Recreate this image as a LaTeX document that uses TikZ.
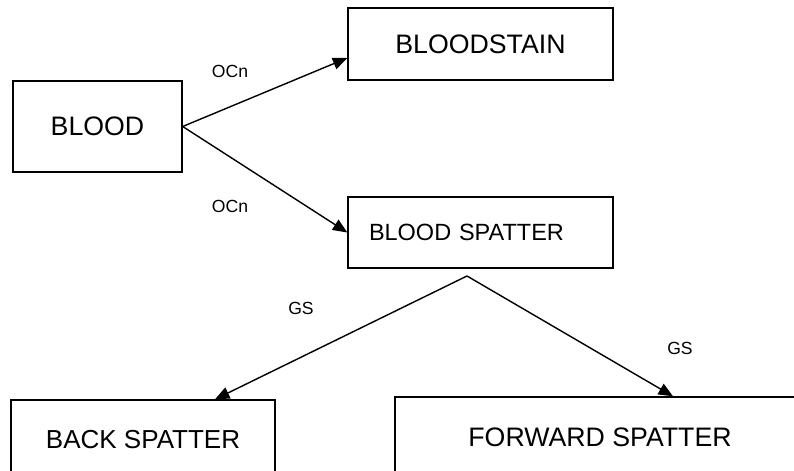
\documentclass[tikz,border=0pt]{standalone}
\usepackage{fontspec}
\setmainfont{Liberation Sans}
\usetikzlibrary{shapes,arrows.meta,positioning}

\tikzset{
  box/.style={draw, rectangle, line width=1pt, inner sep=0pt},
  flow/.style={line width=1pt, -{Triangle[length=3.6mm,width=3mm]}},
  tag/.style={font=\fontsize{12.5}{14}\selectfont, inner sep=0pt}
}

\begin{document}
\begin{tikzpicture}[x=0.025cm, y=-0.025cm]
\useasboundingbox (0,0) rectangle (794,471);
\clip (0,0) rectangle (794,471);
% boxes
\node[box, minimum width=169*0.025cm, minimum height=91*0.025cm, font=\fontsize{19}{22}\selectfont] (blood) at (97.5,126.5) {BLOOD};
\node[box, minimum width=265*0.025cm, minimum height=72*0.025cm, font=\fontsize{19}{22}\selectfont] (stain) at (480.5,44) {BLOODSTAIN};
\node[box, minimum width=265*0.025cm, minimum height=71*0.025cm, text width=223*0.025cm, inner xsep=21*0.025cm, align=left, font=\fontsize{16.7}{20}\selectfont] (spatter) at (480.5,232.5) {BLOOD SPATTER};
\node[box, minimum width=264*0.025cm, minimum height=80*0.025cm, font=\fontsize{18.5}{22}\selectfont] (back) at (143,440) {BACK SPATTER};
\node[box, minimum width=410*0.025cm, minimum height=80*0.025cm, font=\fontsize{19}{22}\selectfont] (forward) at (600,437) {FORWARD SPATTER};
\coordinate (split) at (467,276);
% connectors
\draw[flow] (blood.east) -- ([yshift=-3.5mm]stain.west);
\draw[flow] (blood.east) -- (spatter.west);
\draw[flow] (split) -- ([xshift=1.8cm]back.north);
\draw[flow] (split) -- ([xshift=1.825cm]forward.north);
% labels
\node[tag] (ocn1) at (230,71) {OCn};
\node[tag] (ocn2) at (230,206) {OCn};
\node[tag] (gs1) at (301,308) {GS};
\node[tag] (gs2) at (680,348) {GS};
\end{tikzpicture}
\end{document}
